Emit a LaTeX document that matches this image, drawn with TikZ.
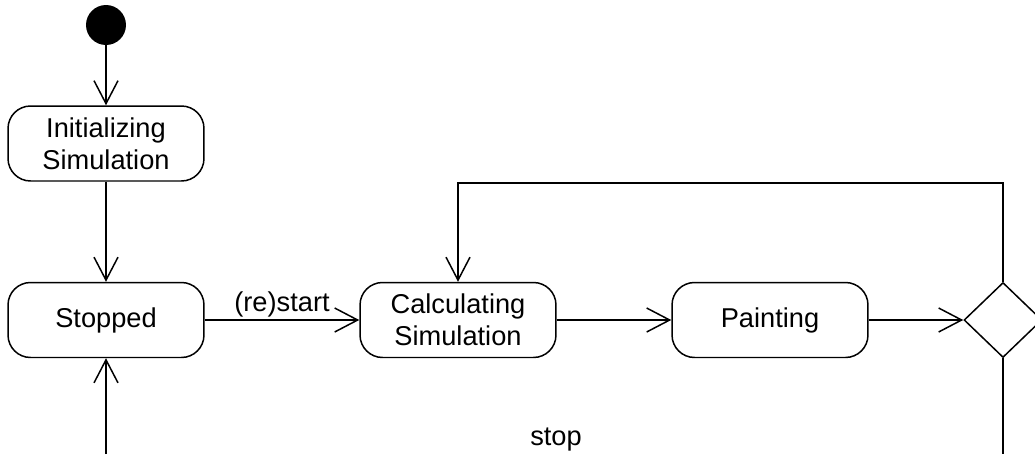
\documentclass[tikz,border=0pt]{standalone}
\usepackage{fontspec}
\setmainfont{Liberation Sans}
\usetikzlibrary{shapes.geometric}
\usetikzlibrary{arrows.meta}

\begin{document}
\begin{tikzpicture}[x=0.02cm, y=-0.02cm,
state/.style = {draw, rounded corners=0.45cm, minimum width=3.92cm,
            minimum height=1.5cm, line width=0.85pt, align=center,
            font=\fontsize{15.5}{18}\selectfont},
choice/.style = {draw, diamond, minimum width=1.56cm, minimum height=1.5cm,
            inner sep=0pt, line width=0.85pt},
dot/.style = {circle, fill, minimum size=#1,
            inner sep=0pt, outer sep=0pt},
dot/.default = 0.8cm,  % size of the start dot
flow/.style = {-{Straight Barb[length=0.46cm, width=0.48cm]}, line width=0.85pt},
lbl/.style = {font=\fontsize{15.5}{18}\selectfont}
                ]
    \useasboundingbox (0,0) rectangle (1035,454);
    \def\row{320}

    \node[dot] at (106,25) (start) {};
    \node[state] at (106,143.5) (init) {Initializing\\Simulation};
    \node[state] at (106,\row) (stopped) {\raisebox{-1.5pt}{Stopped}};
    \node[state] at (458,\row) (calc) {Calculating\\Simulation};
    \node[state] at (770,\row) (paint) {\raisebox{-1.5pt}{Painting}};
    \node[choice] at (1003,\row) (check) {};

    \coordinate (up) at (0,183);
    \coordinate (outr) at (1003,454);
    \coordinate (outl) at (106,454);

    \draw[flow] (start) -- (init);
    \draw[flow] (init) -- (stopped);
    \draw[flow] (stopped) -- (calc) node[lbl, pos=0.5, above, inner sep=1pt] (restart) {(re)start};
    \draw[flow] (calc) -- (paint);
    \draw[flow] (paint) -- (check);
    \draw[flow] (check.north) |- (calc.north |- up) -- (calc.north);
    \draw[line width=0.85pt] (check.south) -- (outr);
    \draw[flow] (outl) -- (stopped.south);
    \node[lbl] at (556,440) (stop) {stop};
\end{tikzpicture}
\end{document}
